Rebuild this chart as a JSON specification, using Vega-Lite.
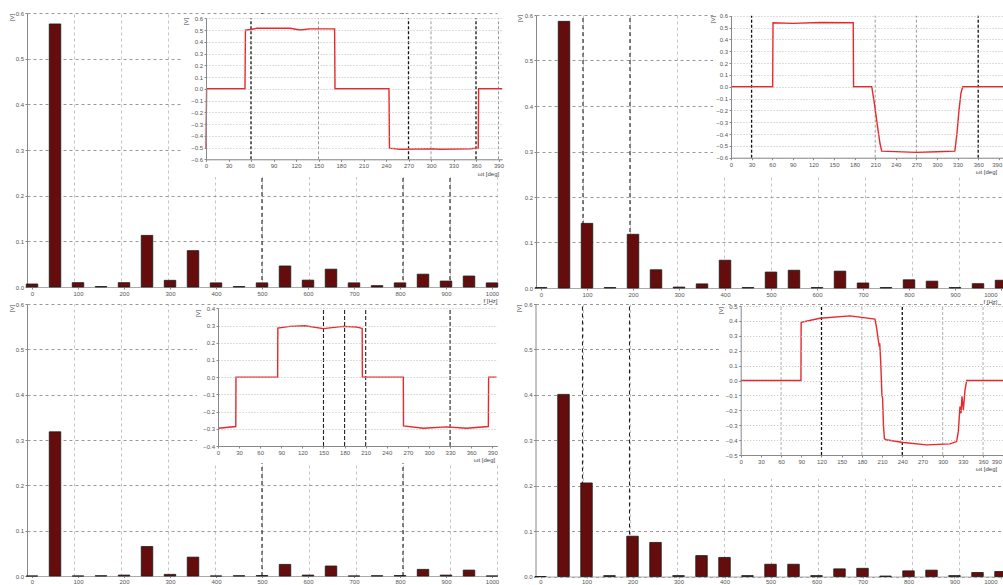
{
"$schema": "https://vega.github.io/schema/vega-lite/v6.json",
"width": 1003, "height": 585,
"autosize": {"type": "none"},
"padding": 0,
"background": "white",
"view": {"stroke": null},
"config": {
  "axis": {"labelFont": "Liberation Sans", "labelFontSize": 6, "labelColor": "#555", "labelPadding": 1.5, "labelFlush": false, "labelOverlap": false, "tickSize": 2, "tickColor": "#888", "domainColor": "#888", "titleFont": "Liberation Sans", "titleFontSize": 6, "titleFontWeight": "normal", "titleColor": "#444", "titlePadding": 0}
},
"datasets": {
  "one": [{"bg": 1}],
  "tl_bars": [{"f":0,"v":0.0066},{"f":50,"v":0.576},{"f":100,"v":0.0095},{"f":150,"v":0.001},{"f":200,"v":0.0095},{"f":250,"v":0.113},{"f":300,"v":0.0146},{"f":350,"v":0.0796},{"f":400,"v":0.009},{"f":450,"v":0.001},{"f":500,"v":0.009},{"f":550,"v":0.046},{"f":600,"v":0.015},{"f":650,"v":0.039},{"f":700,"v":0.009},{"f":750,"v":0.003},{"f":800,"v":0.009},{"f":850,"v":0.028},{"f":900,"v":0.013},{"f":950,"v":0.024},{"f":1000,"v":0.009}],
  "tr_bars": [{"f":0,"v":0.001},{"f":50,"v":0.586},{"f":100,"v":0.142},{"f":150,"v":0.001},{"f":200,"v":0.118},{"f":250,"v":0.04},{"f":300,"v":0.002},{"f":350,"v":0.009},{"f":400,"v":0.061},{"f":450,"v":0.001},{"f":500,"v":0.035},{"f":550,"v":0.039},{"f":600,"v":0.001},{"f":650,"v":0.037},{"f":700,"v":0.011},{"f":750,"v":0.001},{"f":800,"v":0.018},{"f":850,"v":0.015},{"f":900,"v":0.001},{"f":950,"v":0.0095},{"f":1000,"v":0.017}],
  "bl_bars": [{"f":0,"v":0},{"f":50,"v":0.318},{"f":100,"v":0},{"f":150,"v":0.0005},{"f":200,"v":0.002},{"f":250,"v":0.065},{"f":300,"v":0.0036},{"f":350,"v":0.0416},{"f":400,"v":0},{"f":450,"v":0.0005},{"f":500,"v":0.001},{"f":550,"v":0.0256},{"f":600,"v":0.002},{"f":650,"v":0.022},{"f":700,"v":0},{"f":750,"v":0.0005},{"f":800,"v":0.001},{"f":850,"v":0.0146},{"f":900,"v":0.002},{"f":950,"v":0.013},{"f":1000,"v":0}],
  "br_bars": [{"f":0,"v":0},{"f":50,"v":0.401},{"f":100,"v":0.206},{"f":150,"v":0.002},{"f":200,"v":0.0887},{"f":250,"v":0.075},{"f":300,"v":0.002},{"f":350,"v":0.046},{"f":400,"v":0.042},{"f":450,"v":0.002},{"f":500,"v":0.027},{"f":550,"v":0.027},{"f":600,"v":0.002},{"f":650,"v":0.0168},{"f":700,"v":0.018},{"f":750,"v":0.001},{"f":800,"v":0.0124},{"f":850,"v":0.014},{"f":900,"v":0.002},{"f":950,"v":0.0088},{"f":1000,"v":0.011}],
  "tl_wave": [{"t":0,"v":-0.505},{"t":0.8,"v":0},{"t":52,"v":0},{"t":52.6,"v":0.5},{"t":60,"v":0.505},{"t":67.6,"v":0.515},{"t":112,"v":0.515},{"t":125.3,"v":0.5},{"t":138.7,"v":0.51},{"t":171.5,"v":0.51},{"t":172,"v":0},{"t":244,"v":0},{"t":244.6,"v":-0.505},{"t":258.7,"v":-0.515},{"t":303,"v":-0.51},{"t":312,"v":-0.515},{"t":352,"v":-0.51},{"t":363,"v":-0.505},{"t":363.5,"v":0},{"t":395,"v":0}],
  "tr_wave": [{"t":0,"v":0},{"t":60.7,"v":0},{"t":61.2,"v":0.54},{"t":90,"v":0.535},{"t":130,"v":0.543},{"t":178,"v":0.54},{"t":178.5,"v":0},{"t":205,"v":0},{"t":209,"v":-0.15},{"t":213,"v":-0.32},{"t":217,"v":-0.48},{"t":219.5,"v":-0.545},{"t":270,"v":-0.555},{"t":300,"v":-0.55},{"t":326,"v":-0.545},{"t":329,"v":-0.4},{"t":332,"v":-0.2},{"t":335,"v":-0.05},{"t":337.5,"v":0},{"t":400,"v":0}],
  "bl_wave": [{"t":0.4,"v":-0.297},{"t":25.3,"v":-0.287},{"t":25.6,"v":0},{"t":84.8,"v":0},{"t":85.1,"v":0.285},{"t":102.4,"v":0.295},{"t":123.7,"v":0.299},{"t":149.8,"v":0.282},{"t":178.2,"v":0.295},{"t":197.2,"v":0.291},{"t":205,"v":0.283},{"t":205.3,"v":0},{"t":263.5,"v":0},{"t":263.8,"v":-0.283},{"t":292,"v":-0.297},{"t":325,"v":-0.289},{"t":353.6,"v":-0.297},{"t":384.4,"v":-0.287},{"t":384.8,"v":0},{"t":396,"v":0}],
  "br_wave": [{"t":0,"v":0},{"t":89.5,"v":0},{"t":89.8,"v":0.391},{"t":117.8,"v":0.418},{"t":162.3,"v":0.434},{"t":199.4,"v":0.412},{"t":202,"v":0.35},{"t":204.4,"v":0.27},{"t":205.5,"v":0.24},{"t":206.5,"v":0.25},{"t":208,"v":0.12},{"t":209.8,"v":-0.1},{"t":210.8,"v":-0.12},{"t":212,"v":-0.3},{"t":213.5,"v":-0.39},{"t":215.8,"v":-0.398},{"t":241.5,"v":-0.416},{"t":276.2,"v":-0.432},{"t":310.8,"v":-0.425},{"t":320.8,"v":-0.41},{"t":323.3,"v":-0.34},{"t":325.7,"v":-0.175},{"t":327.2,"v":-0.22},{"t":328.7,"v":-0.107},{"t":330.7,"v":-0.197},{"t":333.2,"v":-0.063},{"t":335.7,"v":0},{"t":400,"v":0}],
  "tl_cur": [{"f":500},{"f":800},{"f":900}],
  "tr_cur": [{"f":100},{"f":200}],
  "bl_cur": [{"f":500},{"f":800}],
  "br_cur": [{"f":100},{"f":200}],
  "tl_md": [{"t":60},{"t":270},{"t":360}],
  "tl_ml": [{"t":150},{"t":300},{"t":390}],
  "tr_md": [{"t":30},{"t":360}],
  "tr_ml": [{"t":210},{"t":270}],
  "bl_md": [{"t":150},{"t":180},{"t":210},{"t":330}],
  "br_md": [{"t":120},{"t":240}],
  "br_ml": [{"t":60},{"t":180},{"t":300},{"t":360}]
},
"layer": [
  {"data": {"name": "tl_cur"},
   "mark": {"type": "rule", "stroke": "#222", "strokeDash": [4,3], "strokeWidth": 1.1},
   "encoding": {
     "x": {"field": "f", "type": "quantitative", "scale": {"domain": [0,1000], "range": [27,497], "nice": false, "zero": false},
           "axis": {"orient": "top", "values": [100,200,300,400,500,600,700,800,900,1000], "grid": true, "gridColor": "#c4c4c4", "gridDash": [3,3], "labels": false, "ticks": false, "domain": false, "title": null}},
     "y": {"datum": 0, "type": "quantitative", "scale": {"domain": [0,0.6], "range": [287,13], "nice": false, "zero": false}, "axis": null},
     "y2": {"datum": 0.6}}},
  {"data": {"name": "tl_bars"},
   "mark": {"type": "bar", "size": 11.5, "fill": "#650d0d", "stroke": "#1a1a1a", "strokeWidth": 0.8},
   "encoding": {
     "x": {"field": "f", "type": "quantitative", "scale": {"domain": [0,1000], "range": [27,497], "nice": false, "zero": false},
           "axis": {"orient": "bottom", "offset": -298, "values": [0,100,200,300,400,500,600,700,800,900,1000], "format": "d", "grid": false, "domainColor": "#aaa", "title": "f [Hz]", "titleX": 490, "titleY": 10, "titleBaseline": "top"}},
     "y": {"field": "v", "type": "quantitative", "stack": null, "scale": {"domain": [0,0.6], "range": [287,13], "nice": false, "zero": false},
           "axis": {"orient": "left", "offset": -27, "values": [0,0.1,0.2,0.3,0.4,0.5,0.6], "format": ".1f", "grid": true, "gridColor": "#9a9a9a", "gridDash": [3,3], "title": "[V]", "titleAngle": 270, "titleX": -13, "titleY": 17}},
     "y2": {"datum": 0}}},
  {"layer": [
    {"data": {"name": "one"}, "mark": {"type": "rect", "fill": "white"},
     "encoding": {"x": {"datum": -32, "type": "quantitative", "scale": {"domain": [0,395], "range": [206,502.25], "nice": false, "zero": false}}, "x2": {"datum": 397},
                  "y": {"datum": 0.632, "type": "quantitative", "scale": {"domain": [-0.6,0.6], "range": [159.3,18.3], "nice": false, "zero": false}}, "y2": {"datum": -0.75}}},
    {"data": {"name": "tl_ml"}, "mark": {"type": "rule", "stroke": "#9a9a9a", "strokeDash": [3,2], "strokeWidth": 1},
     "encoding": {"x": {"field": "t", "type": "quantitative"}, "y": {"datum": -0.6, "type": "quantitative"}, "y2": {"datum": 0.6}}},
    {"data": {"name": "tl_md"}, "mark": {"type": "rule", "stroke": "#111", "strokeDash": [3,2], "strokeWidth": 1.3},
     "encoding": {"x": {"field": "t", "type": "quantitative"}, "y": {"datum": -0.6, "type": "quantitative"}, "y2": {"datum": 0.6}}},
    {"data": {"name": "tl_wave"}, "mark": {"type": "line", "stroke": "#e8282b", "strokeWidth": 1.4},
     "encoding": {
       "x": {"field": "t", "type": "quantitative", "scale": {"domain": [0,395], "range": [206,502.25], "nice": false, "zero": false},
             "axis": {"orient": "bottom", "offset": -425.7, "values": [0,30,60,90,120,150,180,210,240,270,300,330,360,390], "format": "d", "grid": false, "zindex": 1, "title": "ωt [deg]", "titleX": 488, "titleY": 11, "titleBaseline": "top"}},
       "y": {"field": "v", "type": "quantitative", "scale": {"domain": [-0.6,0.6], "range": [159.3,18.3], "nice": false, "zero": false},
             "axis": {"orient": "left", "offset": -206, "values": [-0.6,-0.5,-0.4,-0.3,-0.2,-0.1,0,0.1,0.2,0.3,0.4,0.5,0.6], "format": ".1f", "grid": true, "gridColor": "#bdbdbd", "gridDash": [1,2], "zindex": 1, "title": "[V]", "titleAngle": 270, "titleX": -18, "titleY": 21}}}}
  ]},

  {"data": {"name": "tr_cur"},
   "mark": {"type": "rule", "stroke": "#222", "strokeDash": [4,3], "strokeWidth": 1.1},
   "encoding": {
     "x": {"field": "f", "type": "quantitative", "scale": {"domain": [0,1000], "range": [536,1006], "nice": false, "zero": false},
           "axis": {"orient": "top", "values": [100,200,300,400,500,600,700,800,900,1000], "grid": true, "gridColor": "#c4c4c4", "gridDash": [3,3], "labels": false, "ticks": false, "domain": false, "title": null}},
     "y": {"datum": 0, "type": "quantitative", "scale": {"domain": [0,0.6], "range": [288,15], "nice": false, "zero": false}, "axis": null},
     "y2": {"datum": 0.6}}},
  {"data": {"name": "tr_bars"},
   "mark": {"type": "bar", "size": 11.5, "fill": "#650d0d", "stroke": "#1a1a1a", "strokeWidth": 0.8},
   "encoding": {
     "x": {"field": "f", "type": "quantitative", "scale": {"domain": [0,1000], "range": [536,1006], "nice": false, "zero": false},
           "axis": {"orient": "bottom", "offset": -297, "values": [0,100,200,300,400,500,600,700,800,900,1000], "format": "d", "grid": false, "domainColor": "#aaa",
                    "labelAlign": {"expr": "datum.value >= 1000 ? 'right' : 'center'"}, "labelOffset": {"expr": "datum.value >= 1000 ? -4 : 0"},
                    "title": "f [Hz]", "titleX": 990, "titleY": 10, "titleBaseline": "top"}},
     "y": {"field": "v", "type": "quantitative", "stack": null, "scale": {"domain": [0,0.6], "range": [288,15], "nice": false, "zero": false},
           "axis": {"orient": "left", "offset": -536, "values": [0,0.1,0.2,0.3,0.4,0.5,0.6], "format": ".1f", "grid": true, "gridColor": "#9a9a9a", "gridDash": [3,3], "title": "[V]", "titleAngle": 270, "titleX": -14, "titleY": 18}},
     "y2": {"datum": 0}}},
  {"layer": [
    {"data": {"name": "one"}, "mark": {"type": "rect", "fill": "white"},
     "encoding": {"x": {"datum": -26, "type": "quantitative", "scale": {"domain": [0,400], "range": [731,1005.67], "nice": false, "zero": false}}, "x2": {"datum": 410},
                  "y": {"datum": 0.607, "type": "quantitative", "scale": {"domain": [-0.6,0.6], "range": [157.7,15.7], "nice": false, "zero": false}}, "y2": {"datum": -0.75}}},
    {"data": {"name": "tr_ml"}, "mark": {"type": "rule", "stroke": "#9a9a9a", "strokeDash": [3,2], "strokeWidth": 1},
     "encoding": {"x": {"field": "t", "type": "quantitative"}, "y": {"datum": -0.6, "type": "quantitative"}, "y2": {"datum": 0.6}}},
    {"data": {"name": "tr_md"}, "mark": {"type": "rule", "stroke": "#111", "strokeDash": [3,2], "strokeWidth": 1.3},
     "encoding": {"x": {"field": "t", "type": "quantitative"}, "y": {"datum": -0.6, "type": "quantitative"}, "y2": {"datum": 0.6}}},
    {"data": {"name": "tr_wave"}, "mark": {"type": "line", "stroke": "#e8282b", "strokeWidth": 1.4},
     "encoding": {
       "x": {"field": "t", "type": "quantitative", "scale": {"domain": [0,400], "range": [731,1005.67], "nice": false, "zero": false},
             "axis": {"orient": "bottom", "offset": -427.3, "values": [0,30,60,90,120,150,180,210,240,270,300,330,360,390], "format": "d", "grid": false, "zindex": 1,
                      "labelAlign": {"expr": "datum.value >= 390 ? 'right' : 'center'"}, "labelOffset": {"expr": "datum.value >= 390 ? 3 : 0"},
                      "title": "ωt [deg]", "titleX": 986, "titleY": 11, "titleBaseline": "top"}},
       "y": {"field": "v", "type": "quantitative", "scale": {"domain": [-0.6,0.6], "range": [157.7,15.7], "nice": false, "zero": false},
             "axis": {"orient": "left", "offset": -731, "values": [-0.6,-0.5,-0.4,-0.3,-0.2,-0.1,0,0.1,0.2,0.3,0.4,0.5,0.6], "format": ".1f", "grid": true, "gridColor": "#bdbdbd", "gridDash": [1,2], "zindex": 1, "title": "[V]", "titleAngle": 270, "titleX": -16, "titleY": 19}}}}
  ]},

  {"data": {"name": "bl_cur"},
   "mark": {"type": "rule", "stroke": "#222", "strokeDash": [4,3], "strokeWidth": 1.1},
   "encoding": {
     "x": {"field": "f", "type": "quantitative", "scale": {"domain": [0,1000], "range": [27,497], "nice": false, "zero": false},
           "axis": {"orient": "top", "values": [100,200,300,400,500,600,700,800,900,1000], "grid": true, "gridColor": "#c4c4c4", "gridDash": [3,3], "labels": false, "ticks": false, "domain": false, "title": null}},
     "y": {"datum": 0, "type": "quantitative", "scale": {"domain": [0,0.6], "range": [576,304], "nice": false, "zero": false}, "axis": null},
     "y2": {"datum": 0.6}}},
  {"data": {"name": "bl_bars"},
   "mark": {"type": "bar", "size": 11.5, "fill": "#650d0d", "stroke": "#1a1a1a", "strokeWidth": 0.8},
   "encoding": {
     "x": {"field": "f", "type": "quantitative", "scale": {"domain": [0,1000], "range": [27,497], "nice": false, "zero": false},
           "axis": {"orient": "bottom", "offset": -9, "values": [0,100,200,300,400,500,600,700,800,900,1000], "format": "d", "grid": false, "domainColor": "#aaa", "tickSize": 1.5, "labelPadding": 0.5, "title": null}},
     "y": {"field": "v", "type": "quantitative", "stack": null, "scale": {"domain": [0,0.6], "range": [576,304], "nice": false, "zero": false},
           "axis": {"orient": "left", "offset": -27, "values": [0,0.1,0.2,0.3,0.4,0.5,0.6], "format": ".1f", "grid": true, "gridColor": "#9a9a9a", "gridDash": [3,3], "title": "[V]", "titleAngle": 270, "titleX": -13, "titleY": 308}},
     "y2": {"datum": 0}}},
  {"layer": [
    {"data": {"name": "one"}, "mark": {"type": "rect", "fill": "white"},
     "encoding": {"x": {"datum": -30, "type": "quantitative", "scale": {"domain": [0,397], "range": [218,497.2], "nice": false, "zero": false}}, "x2": {"datum": 407},
                  "y": {"datum": 0.419, "type": "quantitative", "scale": {"domain": [-0.4,0.4], "range": [446,308.3], "nice": false, "zero": false}}, "y2": {"datum": -0.5}}},
    {"data": {"name": "bl_md"}, "mark": {"type": "rule", "stroke": "#222", "strokeDash": [4,2], "strokeWidth": 1.1},
     "encoding": {"x": {"field": "t", "type": "quantitative"}, "y": {"datum": -0.4, "type": "quantitative"}, "y2": {"datum": 0.4}}},
    {"data": {"name": "bl_wave"}, "mark": {"type": "line", "stroke": "#e8282b", "strokeWidth": 1.4},
     "encoding": {
       "x": {"field": "t", "type": "quantitative", "scale": {"domain": [0,397], "range": [218,497.2], "nice": false, "zero": false},
             "axis": {"orient": "bottom", "offset": -139, "values": [0,30,60,90,120,150,180,210,240,270,300,330,360,390], "format": "d", "grid": false, "zindex": 1, "title": "ωt [deg]", "titleX": 484, "titleY": 10.5, "titleBaseline": "top"}},
       "y": {"field": "v", "type": "quantitative", "scale": {"domain": [-0.4,0.4], "range": [446,308.3], "nice": false, "zero": false},
             "axis": {"orient": "left", "offset": -218, "values": [-0.4,-0.3,-0.2,-0.1,0,0.1,0.2,0.3,0.4], "format": ".1f", "grid": true, "gridColor": "#bdbdbd", "gridDash": [1,2], "zindex": 1, "title": "[V]", "titleAngle": 270, "titleX": -18, "titleY": 313}}}}
  ]},

  {"data": {"name": "br_cur"},
   "mark": {"type": "rule", "stroke": "#222", "strokeDash": [4,3], "strokeWidth": 1.1},
   "encoding": {
     "x": {"field": "f", "type": "quantitative", "scale": {"domain": [0,1000], "range": [535.5,1005.5], "nice": false, "zero": false},
           "axis": {"orient": "top", "values": [100,200,300,400,500,600,700,800,900,1000], "grid": true, "gridColor": "#c4c4c4", "gridDash": [3,3], "labels": false, "ticks": false, "domain": false, "title": null}},
     "y": {"datum": 0, "type": "quantitative", "scale": {"domain": [0,0.6], "range": [576.5,304], "nice": false, "zero": false}, "axis": null},
     "y2": {"datum": 0.6}}},
  {"data": {"name": "br_bars"},
   "mark": {"type": "bar", "size": 11.5, "fill": "#650d0d", "stroke": "#1a1a1a", "strokeWidth": 0.8},
   "encoding": {
     "x": {"field": "f", "type": "quantitative", "scale": {"domain": [0,1000], "range": [535.5,1005.5], "nice": false, "zero": false},
           "axis": {"orient": "bottom", "offset": -8.5, "values": [0,100,200,300,400,500,600,700,800,900,1000], "format": "d", "grid": false, "domainColor": "#aaa", "tickSize": 1.5, "labelPadding": 0.5,
                    "labelAlign": {"expr": "datum.value >= 1000 ? 'right' : 'center'"}, "labelOffset": {"expr": "datum.value >= 1000 ? -3.5 : 0"}, "title": null}},
     "y": {"field": "v", "type": "quantitative", "stack": null, "scale": {"domain": [0,0.6], "range": [576.5,304], "nice": false, "zero": false},
           "axis": {"orient": "left", "offset": -535.5, "values": [0,0.1,0.2,0.3,0.4,0.5,0.6], "format": ".1f", "grid": true, "gridColor": "#9a9a9a", "gridDash": [3,3], "title": "[V]", "titleAngle": 270, "titleX": -14, "titleY": 308}},
     "y2": {"datum": 0}}},
  {"layer": [
    {"data": {"name": "one"}, "mark": {"type": "rect", "fill": "white"},
     "encoding": {"x": {"datum": -31, "type": "quantitative", "scale": {"domain": [0,400], "range": [740.7,1010], "nice": false, "zero": false}}, "x2": {"datum": 410},
                  "y": {"datum": 0.507, "type": "quantitative", "scale": {"domain": [-0.5,0.5], "range": [455,306], "nice": false, "zero": false}}, "y2": {"datum": -0.66}}},
    {"data": {"name": "br_ml"}, "mark": {"type": "rule", "stroke": "#b0b0b0", "strokeDash": [3,2], "strokeWidth": 1},
     "encoding": {"x": {"field": "t", "type": "quantitative"}, "y": {"datum": -0.5, "type": "quantitative"}, "y2": {"datum": 0.5}}},
    {"data": {"name": "br_md"}, "mark": {"type": "rule", "stroke": "#111", "strokeDash": [3,2], "strokeWidth": 1.3},
     "encoding": {"x": {"field": "t", "type": "quantitative"}, "y": {"datum": -0.5, "type": "quantitative"}, "y2": {"datum": 0.5}}},
    {"data": {"name": "br_wave"}, "mark": {"type": "line", "stroke": "#e8282b", "strokeWidth": 1.4},
     "encoding": {
       "x": {"field": "t", "type": "quantitative", "scale": {"domain": [0,400], "range": [740.7,1010], "nice": false, "zero": false},
             "axis": {"orient": "bottom", "offset": -130, "values": [0,30,60,90,120,150,180,210,240,270,300,330,360,390], "format": "d", "grid": false, "zindex": 1,
                      "labelAlign": {"expr": "datum.value >= 390 ? 'right' : 'center'"}, "labelOffset": {"expr": "datum.value >= 390 ? -2 : 0"},
                      "title": "ωt [deg]", "titleX": 986, "titleY": 10.5, "titleBaseline": "top"}},
       "y": {"field": "v", "type": "quantitative", "scale": {"domain": [-0.5,0.5], "range": [455,306], "nice": false, "zero": false},
             "axis": {"orient": "left", "offset": -740.7, "values": [-0.5,-0.4,-0.3,-0.2,-0.1,0,0.1,0.2,0.3,0.4,0.5], "format": ".1f", "grid": true, "gridColor": "#bdbdbd", "gridDash": [1,2], "zindex": 1, "title": "[V]", "titleAngle": 270, "titleX": -17, "titleY": 310}}}}
  ]}
],
"resolve": {"scale": {"x": "independent", "y": "independent"}, "axis": {"x": "independent", "y": "independent"}}
}
